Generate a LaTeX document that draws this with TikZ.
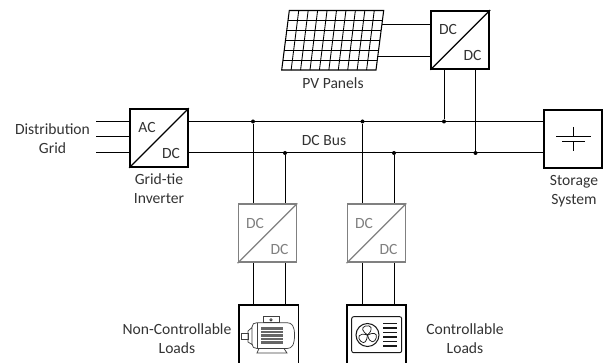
\documentclass[tikz,border=0pt]{standalone}
\usepackage{fontspec}
\usetikzlibrary{calc}
\setmainfont{Carlito}
\definecolor{gbox}{gray}{0.5}
\tikzset{
 px/.style={x=0.75pt,y=-0.75pt},
 wire/.style={line width=0.75pt,black},
 box/.style={draw=black,line width=1.3pt,fill=white,minimum width=43.5pt,minimum height=43.5pt,inner sep=0pt},
 graybox/.style={box,draw=gbox},
 lbl/.style={font=\fontsize{11.7pt}{14.3pt}\selectfont,text=black!80,align=center,inner sep=0pt},
 glbl/.style={lbl,text=gbox},
 dot/.style={circle,fill=black,minimum size=3pt,inner sep=0pt}
}
\begin{document}
\begin{tikzpicture}[px]
\useasboundingbox (0,0) rectangle (603,363);
% boxes
\node[box] (inv) at (159,138) {};
\node[box] (pvc) at (460.3,40) {};
\node[box] (sto) at (573,139) {};
\node[graybox] (g1) at (267.5,233.3) {};
\node[graybox] (g2) at (376.5,233.3) {};
% free ends
\coordinate (gridA) at (96,121.5);
\coordinate (gridB) at (96,137);
\coordinate (gridC) at (96,153);
\coordinate (invA) at (inv.west |- gridA);
\coordinate (invB) at (inv.west |- gridB);
\coordinate (invC) at (inv.west |- gridC);
\coordinate (busAl) at (inv.east |- gridA);
\coordinate (busBl) at (inv.east |- gridC);
\coordinate (busAr) at (sto.west |- gridA);
\coordinate (busBr) at (sto.west |- gridC);
\draw[wire] (gridA) -- (invA) (gridB) -- (invB) (gridC) -- (invC);
\draw[wire] (busAl) -- (busAr) (busBl) -- (busBr);
% junctions
\node[dot] (j1) at (253,121.5) {};
\node[dot] (j2) at (362.5,121.5) {};
\node[dot] (j3) at (444,121.5) {};
\node[dot] (k1) at (285,153) {};
\node[dot] (k2) at (394,153) {};
\node[dot] (k3) at (475.5,153) {};
\draw[wire] (j1) -- (j1 |- g1.north) (k1) -- (k1 |- g1.north);
\draw[wire] (j2) -- (j2 |- g2.north) (k2) -- (k2 |- g2.north);
\draw[wire] (j3) -- (j3 |- pvc.south) (k3) -- (k3 |- pvc.south);
% diagonals and box texts
\draw[line width=1pt,black] (inv.south west) -- (inv.north east);
\draw[line width=1pt,black] (pvc.south west) -- (pvc.north east);
\draw[line width=1pt,gbox] (g1.south west) -- (g1.north east);
\draw[line width=1pt,gbox] (g2.south west) -- (g2.north east);
\node[lbl] (t1) at (147,127.5) {AC};
\node[lbl] (t2) at (171,153) {DC};
\node[lbl] (t3) at (448,29.5) {DC};
\node[lbl] (t4) at (472.5,55.5) {DC};
\node[glbl] (t5) at (255,223.5) {DC};
\node[glbl] (t6) at (279.5,249.5) {DC};
\node[glbl] (t7) at (364,223.5) {DC};
\node[glbl] (t8) at (388.5,249.5) {DC};
% PV panel
\coordinate (pa) at (289.3,10.5);
\coordinate (pb) at (383.7,10.5);
\coordinate (pc) at (376,70);
\coordinate (pd) at (281.7,70);
\draw[line width=0.8pt] (pa) -- (pb) -- (pc) -- (pd) -- cycle;
\foreach \i in {1,...,9}
  \draw[line width=0.65pt] ($(pa)!\i/10!(pb)$) -- ($(pd)!\i/10!(pc)$);
\foreach \i in {1,...,5}
  \draw[line width=0.65pt] ($(pa)!\i/6!(pd)$) -- ($(pb)!\i/6!(pc)$);
\coordinate (p1) at (382,25);
\coordinate (p2) at (378,57);
\draw[wire] (p1) -- (p1 -| pvc.west) (p2) -- (p2 -| pvc.west);
% storage symbol
\coordinate (s1) at (573.5,127);
\coordinate (s2) at (573.5,137);
\coordinate (s3) at (573.5,142);
\coordinate (s4) at (573.5,151.5);
\draw[wire] (s1) -- (s2) (s3) -- (s4);
\draw[wire] (556,137) -- (591,137) (562,142) -- (585,142);
% load boxes, open at the bottom edge of the picture
\coordinate (m1) at (239,305); \coordinate (m2) at (298.3,305);
\coordinate (f1) at (347,305); \coordinate (f2) at (406,305);
\draw[line width=1.2pt] (m1 |- 0,364) -- (m1) -- (m2) -- (m2 |- 0,364);
\draw[line width=1.2pt] (f1 |- 0,364) -- (f1) -- (f2) -- (f2 |- 0,364);
\draw[wire] (g1.south -| j1) -- (m1 -| j1) (g1.south -| k1) -- (m1 -| k1);
\draw[wire] (g2.south -| j2) -- (f1 -| j2) (g2.south -| k2) -- (f1 -| k2);
% motor
\begin{scope}[line width=0.55pt,black!75]
 \draw (241,333.5) rectangle (248,339.5);
 \draw (248,331) -- (252,327.5) -- (252,344.5) -- (248,342) -- cycle;
 \draw (252,327) .. controls (252,324) and (254,322.7) .. (257,322.7) -- (287,322.7) .. controls (292,322.7) and (294.5,326) .. (294.5,335) .. controls (294.5,345) and (292,348.5) .. (287,348.5) -- (257,348.5) .. controls (254,348.5) and (252,347) .. (252,344);
 \draw (257,322.7) -- (257,348.5);
 \draw (263,316.7) rectangle (279,322.7);
 \draw (271,319.8) circle (1.2);
 \draw (259,348.5) -- (257,353) -- (287,353) -- (284,348.5);
 \foreach \y in {327,328.4,...,345} \draw[line width=0.5pt,black!60] (261,\y) -- (282.5,\y);
\end{scope}
% fan unit
\begin{scope}[line width=0.55pt,black!90]
 \draw[rounded corners=1.5pt,line width=0.7pt] (351.7,316.7) rectangle (401.7,352.7);
 \draw[line width=0.8pt] (367.5,335) circle (11.5);
 \fill (367.5,335) circle (0.9);
 \foreach \a in {0,120,240}
   \draw[rotate around={\a:(367.5,335)}] (367.5,335) .. controls (362.5,331.5) and (360.5,327.5) .. (365.5,326) .. controls (370.5,324.5) and (374.5,328.5) .. (367.5,335);
 \foreach \y in {323.5,328,332.5,337,341.5,346} \draw[line width=0.8pt] (383.3,\y) -- (397.3,\y);
\end{scope}
% labels
\node[lbl] (a) at (52.5,138.5) {Distribution\\Grid};
\node[lbl] (b) at (159,188.5) {Grid-tie\\Inverter};
\node[lbl] (c) at (333,83) {PV Panels};
\node[lbl] (d) at (324,140) {DC Bus};
\node[lbl] (e) at (574,191.5) {Storage\\System};
\node[lbl] (f) at (177,338.5) {Non-Controllable\\Loads};
\node[lbl] (h) at (465,338.5) {Controllable\\Loads};
\end{tikzpicture}
\end{document}
